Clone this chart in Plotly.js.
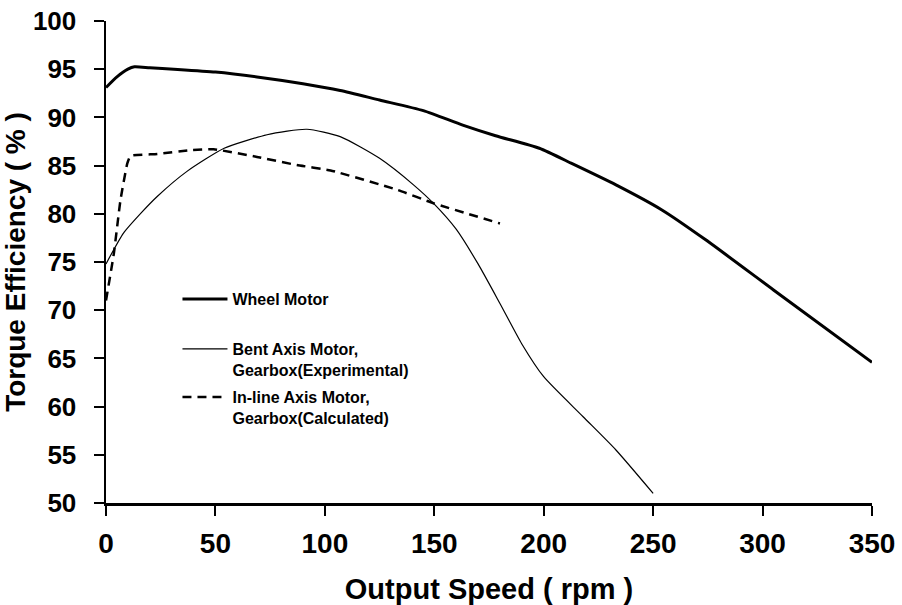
<!DOCTYPE html>
<html>
<head>
<meta charset="utf-8">
<script src="https://cdn.plot.ly/plotly-3.0.1.min.js"></script>
<style>html,body{margin:0;padding:0;background:#fff;}#chart{width:902px;height:605px;}</style>
</head>
<body>
<div id="chart"></div>
<script>
// Wheel Motor
const wheelRpm = [0, 5, 10, 13, 20, 31, 50, 69, 90, 107, 125, 145, 163, 178, 198, 213, 233, 254, 274, 305, 350];
const wheelEff = [93.1, 94.2, 95.0, 95.25, 95.15, 95.0, 94.7, 94.2, 93.5, 92.8, 91.8, 90.7, 89.2, 88.1, 86.8, 85.2, 83.0, 80.4, 77.3, 72.1, 64.6];
// Bent Axis Motor, Gearbox (Experimental)
const bentRpm = [0, 8, 16.5, 23.4, 37, 54, 73.6, 91.8, 107, 125, 140.5, 150, 160, 170, 180, 190, 200, 218, 233, 250];
const bentEff = [74.8, 78.0, 80.2, 81.8, 84.4, 86.8, 88.2, 88.77, 88.0, 85.75, 83.0, 81.0, 78.4, 74.8, 70.7, 66.5, 63.1, 58.95, 55.5, 51.0];
// In-line Axis Motor, Gearbox (Calculated)
const inlineRpm = [0, 3.6, 6.6, 9.7, 11.2, 23.4, 38.6, 49.2, 69, 87.2, 102.6, 132.9, 149.6, 180];
const inlineEff = [71.0, 75.9, 81.4, 85.2, 86.0, 86.2, 86.6, 86.7, 85.9, 85.06, 84.5, 82.5, 81.1, 79.0];

const seriesNames = ['Wheel Motor', 'Bent Axis Motor,<br>Gearbox(Experimental)', 'In-line Axis Motor,<br>Gearbox(Calculated)'];
const xTicks = [0, 50, 100, 150, 200, 250, 300, 350];
const yTicks = [50, 55, 60, 65, 70, 75, 80, 85, 90, 95, 100];

const FONT = 'Liberation Sans, Arial, Helvetica, sans-serif';

const traces = [
  {x: wheelRpm, y: wheelEff, name: seriesNames[0], mode: 'lines', line: {color: '#000', width: 3, shape: 'spline', smoothing: 0.6}, legend: 'legend'},
  {x: bentRpm, y: bentEff, name: seriesNames[1], mode: 'lines', line: {color: '#000', width: 1.2, shape: 'spline', smoothing: 0.6}, legend: 'legend2'},
  {x: inlineRpm, y: inlineEff, name: seriesNames[2], mode: 'lines', line: {color: '#000', width: 2.5, dash: '9px,6px', shape: 'spline', smoothing: 0.4}, legend: 'legend3'}
];

const axisCommon = {
  showgrid: false, zeroline: false, showline: true, linecolor: '#000', linewidth: 2.5,
  ticks: 'outside', ticklen: 10, tickwidth: 2, tickcolor: '#000',
  fixedrange: true
};

function legendAt(y) {
  return {
    x: 0.0933, y: y, xanchor: 'left', yanchor: 'top',
    bgcolor: 'rgba(0,0,0,0)', borderwidth: 0,
    font: {family: FONT, size: 16, color: '#000', weight: 700},
    valign: 'top', itemwidth: 45
  };
}

const layout = {
  width: 902, height: 605,
  margin: {l: 105.5, r: 30, t: 21, b: 102, autoexpand: false},
  paper_bgcolor: '#fff', plot_bgcolor: '#fff',
  showlegend: true,
  legend: legendAt(0.4585),
  legend2: legendAt(0.3548),
  legend3: legendAt(0.2552),
  xaxis: Object.assign({}, axisCommon, {
    range: [0, 350], tickvals: xTicks, ticktext: xTicks.map(String), ticklabelstandoff: 4,
    tickfont: {family: FONT, size: 28, color: '#000', weight: 700},
    title: {text: 'Output Speed ( rpm )', font: {family: FONT, size: 29, color: '#000', weight: 700}, standoff: 35}
  }),
  yaxis: Object.assign({}, axisCommon, {
    range: [50, 100], tickvals: yTicks, ticktext: yTicks.map(String), ticklabelstandoff: 12,
    tickfont: {family: FONT, size: 26, color: '#000', weight: 700},
    title: {text: 'Torque Efficiency ( % )', font: {family: FONT, size: 28, color: '#000', weight: 700}, standoff: 7}
  })
};

Plotly.newPlot('chart', traces, layout, {displayModeBar: false, staticPlot: true});
</script>
</body>
</html>
